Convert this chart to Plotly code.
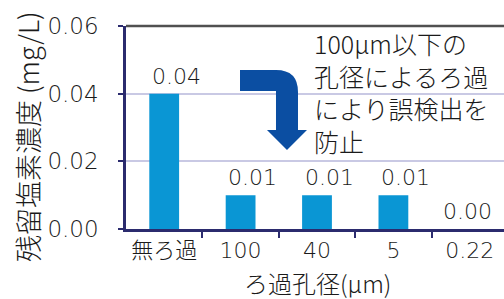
import plotly.graph_objects as go

# ---- data ----
categories = ["無ろ過", "100", "40", "5", "0.22"]
chlorine_mg_per_l = [0.04, 0.01, 0.01, 0.01, 0.00]
y_ticks = [0.00, 0.02, 0.04, 0.06]
x_title = "ろ過孔径(μm)"
y_title = "残留塩素濃度 (mg/L)"
note_text = "100μm以下の<br>孔径によるろ過<br>により誤検出を<br>防止"

# ---- layout constants (pixels) ----
W, H = 504, 299
L, R, T, B = 126, 0, 26, 70
PW, PH = W - L - R, H - T - B

def px(x):
    return (x - L) / PW

def py(y):
    return (H - B - y) / PH

FONT = "DejaVu Sans, Noto Sans CJK JP, sans-serif"
JFONT = "Noto Sans CJK JP, DejaVu Sans, sans-serif"
TXT = "#1a1a1a"
WT = 300
NAVY = "#2b2b6e"
BAR = "#0a96d4"
ARROW = "#0b4ea2"

fig = go.Figure()
fig.add_trace(go.Bar(
    x=list(range(len(categories))),
    y=chlorine_mg_per_l,
    marker=dict(color=BAR, line=dict(width=0)),
    width=0.39,
    hoverinfo="skip",
))

# value labels
for i, v in enumerate(chlorine_mg_per_l):
    fig.add_annotation(
        x=i, y=v, xref="x", yref="y",
        text=f"{v:.2f}", showarrow=False,
        yanchor="bottom", yshift=3, xshift=12 if v > 0 else -2,
        font=dict(size=22, family=FONT, color=TXT, weight=WT),
    )

# note text
fig.add_annotation(
    x=px(312), y=py(23), xref="paper", yref="paper",
    xanchor="left", yanchor="top", align="left",
    text=note_text, showarrow=False,
    font=dict(size=25, family=JFONT, color=TXT, weight=WT),
)

# x-axis title
fig.add_annotation(
    x=px(317), y=py(282), xref="paper", yref="paper",
    xanchor="center", yanchor="middle",
    text=x_title, showarrow=False,
    font=dict(size=24, family=JFONT, color=TXT, weight=WT),
)

# y-axis title
fig.add_annotation(
    x=px(27), y=py(137), xref="paper", yref="paper",
    xanchor="center", yanchor="middle", textangle=-90,
    text=y_title, showarrow=False,
    font=dict(size=27, family=JFONT, color=TXT, weight=WT),
)

# curved arrow (decoration)
pts = [
    ("M", 240, 70), ("L", 276, 70), ("Q", 298, 70, 298, 92), ("L", 298, 130),
    ("L", 307, 130), ("L", 287, 150), ("L", 267, 130), ("L", 276, 130),
    ("L", 276, 91), ("L", 240, 91),
]
path = ""
for p in pts:
    cmd = p[0]
    coords = p[1:]
    s = []
    for i in range(0, len(coords), 2):
        s.append(f"{px(coords[i]):.4f},{py(coords[i+1]):.4f}")
    path += cmd + " ".join(s) + " "
path += "Z"
fig.add_shape(type="path", path=path, xref="paper", yref="paper",
              fillcolor=ARROW, line=dict(width=0), layer="above")

# top frame line
fig.add_shape(type="line", xref="paper", yref="paper", x0=0, x1=1, y0=1, y1=1,
              line=dict(color="#505050", width=2.5), layer="above")

fig.update_layout(
    width=W, height=H,
    margin=dict(l=L, r=R, t=T, b=B, pad=0, autoexpand=False),
    paper_bgcolor="white", plot_bgcolor="white",
    showlegend=False,
    font=dict(family=FONT, size=22, color=TXT, weight=WT),
)
fig.update_xaxes(
    automargin=False,
    range=[-0.5, -0.5 + PW / 76.4],
    tickmode="array", tickvals=list(range(len(categories))), ticktext=categories,
    showline=True, linecolor=NAVY, linewidth=2.5,
    ticks="", showgrid=False, zeroline=False,
    ticklabelstandoff=0,
    tickfont=dict(size=22, family=FONT, color=TXT, weight=WT),
    minor=dict(tickmode="array", tickvals=[0.5, 1.5, 2.5, 3.5],
               ticks="outside", ticklen=6, tickwidth=2, tickcolor=NAVY, showgrid=False),
)
fig.update_yaxes(
    automargin=False,
    range=[0, 0.06],
    tickvals=y_ticks, tickformat=".2f",
    showline=True, linecolor=NAVY, linewidth=2.5,
    ticks="outside", ticklen=5, tickwidth=2, tickcolor=NAVY,
    ticklabelstandoff=15,
    showgrid=True, gridcolor="#c9c9e4", gridwidth=1.5,
    zeroline=False,
    tickfont=dict(size=23, family=FONT, color=TXT, weight=WT),
)

fig.write_html("out.html", config={"displayModeBar": False},
               post_script="document.body.style.margin='0';")
